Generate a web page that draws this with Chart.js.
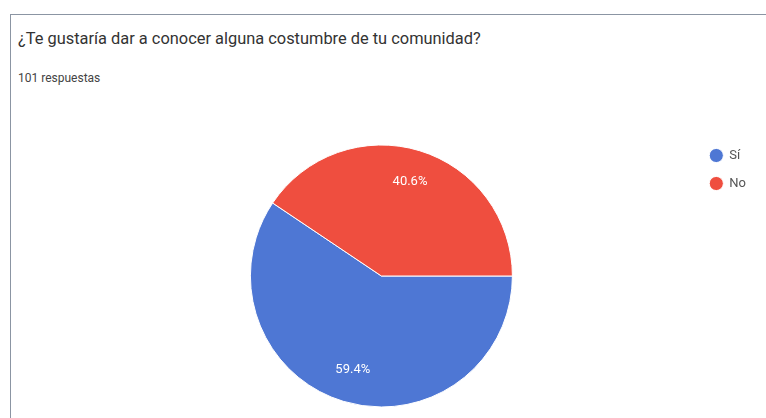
<!DOCTYPE html>
<html lang="es">
<head>
<meta charset="utf-8">
<script src="https://cdn.jsdelivr.net/npm/chart.js@4.4.1/dist/chart.umd.min.js"></script>
<style>
  html, body { margin: 0; padding: 0; background: #fff; width: 766px; height: 418px; overflow: hidden; }
  #frame { position: absolute; left: 10px; top: 14px; width: 800px; height: 500px;
           border-left: 1.5px solid #8b95a3; border-top: 1.5px solid #8b95a3; }
  #title { position: absolute; left: 18px; top: 29px; font: 16.4px Roboto, sans-serif; color: #333; white-space: nowrap; }
  #sub { position: absolute; left: 18px; top: 71px; font: 12px Roboto, sans-serif; color: #444; white-space: nowrap; }
  #wrap { position: absolute; left: 0; top: 0; width: 766px; height: 418px; }
</style>
</head>
<body>
<div id="frame"></div>
<div id="title">¿Te gustaría dar a conocer alguna costumbre de tu comunidad?</div>
<div id="sub">101 respuestas</div>
<div id="wrap"><canvas id="pieChart"></canvas></div>
<script>
const answers = ['Sí', 'No'];
const votes = [60, 41];
const sliceColors = ['#4e77d4', '#ef4e3f'];

// percentage text inside each slice
const pctLabels = {
    id: 'pctLabels',
    afterDatasetsDraw(chart) {
        const ctx = chart.ctx;
        const meta = chart.getDatasetMeta(0);
        const total = votes.reduce((a, b) => a + b, 0);
        ctx.save();
        ctx.font = '13px Roboto, sans-serif';
        ctx.fillStyle = '#ffffff';
        ctx.textAlign = 'center';
        ctx.textBaseline = 'middle';
        meta.data.forEach((arc, i) => {
            const p = arc.getProps(['x', 'y', 'startAngle', 'endAngle', 'outerRadius'], true);
            const mid = (p.startAngle + p.endAngle) / 2;
            const r = p.outerRadius * 0.75;
            const txt = (votes[i] / total * 100).toFixed(1) + '%';
            ctx.fillText(txt, p.x + Math.cos(mid) * r, p.y + Math.sin(mid) * r);
        });
        ctx.restore();
    }
};

function setupPieChart() {
    let pieCtx = document.getElementById('pieChart').getContext('2d');
    new Chart(pieCtx, {
        type: 'pie',
        data: {
            labels: answers,
            datasets: [{
                data: votes,
                backgroundColor: sliceColors,
                borderColor: '#ffffff',
                borderWidth: 1,
                radius: 131
            }]
        },
        options: {
            responsive: true,
            maintainAspectRatio: false,
            animation: false,
            rotation: 90,
            layout: {
                padding: { top: 134, bottom: -4, left: 68, right: 10 }
            },
            plugins: {
                legend: {
                    position: 'right',
                    align: 'start',
                    labels: {
                        usePointStyle: true,
                        pointStyle: 'circle',
                        boxWidth: 13,
                        boxHeight: 10,
                        padding: 15,
                        color: '#555',
                        font: { family: 'Roboto', size: 13 }
                    }
                },
                tooltip: { enabled: false }
            }
        },
        plugins: [pctLabels]
    });
}

setupPieChart();
</script>
</body>
</html>
